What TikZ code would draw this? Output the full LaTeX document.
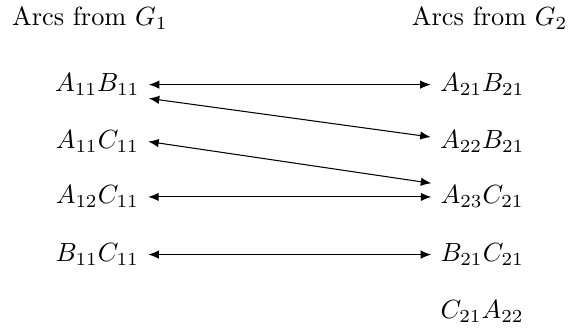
\documentclass[tikz,border=0pt]{standalone}
\usepackage{amsmath}
\usepackage{tikz}
\usetikzlibrary{arrows.meta}

\begin{document}
\begin{tikzpicture}[arc/.style={{Latex[length=4pt,width=3.2pt]}-{Latex[length=4pt,width=3.2pt]}}]
  \useasboundingbox (0,0) rectangle (7.80,-4.42);
  \node (h1) at (1.20,-0.24) {Arcs from $G_1$};
  \node (h2) at (6.54,-0.24) {Arcs from $G_2$};
  % arcs of the first graph
  \node (ab1) at (1.30,-1.13) {$A_{11}B_{11}$};
  \node (ac1) at (1.30,-1.89) {$A_{11}C_{11}$};
  \node (ac2) at (1.30,-2.63) {$A_{12}C_{11}$};
  \node (bc1) at (1.30,-3.40) {$B_{11}C_{11}$};
  % arcs of the second graph
  \node (ab2) at (6.44,-1.13) {$A_{21}B_{21}$};
  \node (ab3) at (6.44,-1.89) {$A_{22}B_{21}$};
  \node (ac3) at (6.44,-2.63) {$A_{23}C_{21}$};
  \node (bc2) at (6.44,-3.40) {$B_{21}C_{21}$};
  \node (ca2) at (6.44,-4.16) {$C_{21}A_{22}$};
  \draw[arc] (ab1.east) -- (ab2.west);
  \draw[arc] (ab1.-15) -- (ab3.175);
  \draw[arc] (ac1.east) -- (ac3.165);
  \draw[arc] (ac2.east) -- (ac3.west);
  \draw[arc] (bc1.east) -- (bc2.west);
\end{tikzpicture}
\end{document}
